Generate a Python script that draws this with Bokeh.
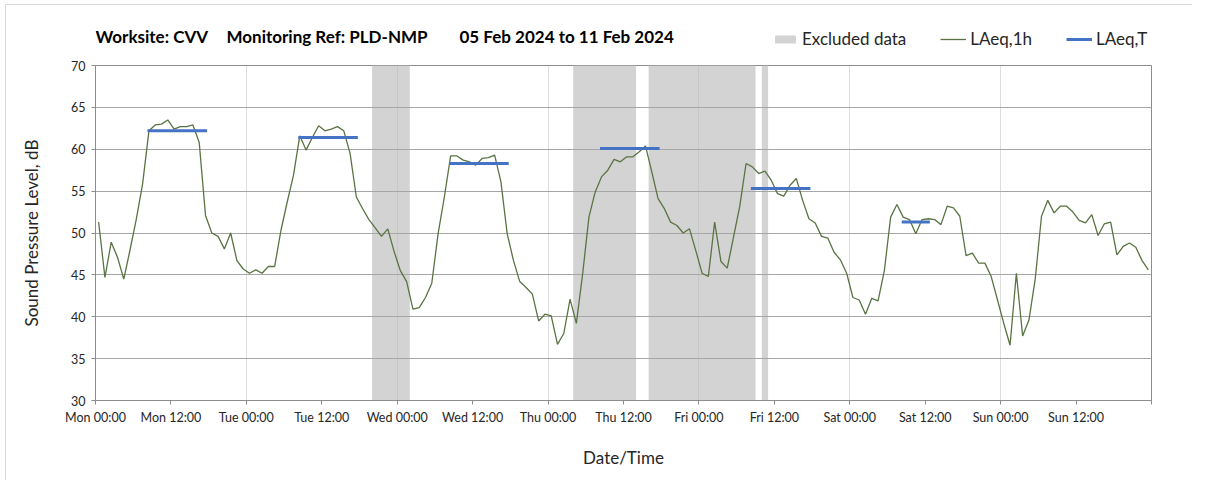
from bokeh.plotting import figure
from bokeh.layouts import column
from bokeh.models import Range1d, FixedTicker, Label, Legend, LegendItem, ColumnDataSource
from bokeh.embed import file_html
from bokeh.resources import INLINE

# ---------------- data ----------------
day_names = ["Mon", "Tue", "Wed", "Thu", "Fri", "Sat", "Sun"]

# hourly LAeq,1h values, Mon 00:00 ... Sun 23:00 (168 values)
laeq_1h = [
    51.3, 44.7, 48.9, 47.1, 44.5, 48.0, 51.7, 55.9, 62.2, 62.9, 63.0, 63.5,
    62.4, 62.7, 62.7, 62.9, 60.8, 52.1, 50.0, 49.6, 48.1, 50.0, 46.7, 45.7,
    45.2, 45.6, 45.2, 46.0, 46.0, 50.3, 53.7, 56.9, 61.6, 59.9, 61.4, 62.8,
    62.2, 62.4, 62.7, 62.2, 59.5, 54.3, 52.9, 51.6, 50.6, 49.6, 50.5, 47.8,
    45.5, 44.2, 40.9, 41.1, 42.3, 44.0, 49.9, 54.3, 59.2, 59.2, 58.7, 58.5,
    58.1, 58.9, 59.0, 59.3, 56.1, 49.9, 46.7, 44.2, 43.5, 42.7, 39.5, 40.3,
    40.1, 36.7, 38.0, 42.1, 39.2, 45.1, 51.9, 54.9, 56.7, 57.5, 58.8, 58.5,
    59.1, 59.1, 59.7, 60.4, 57.3, 54.1, 52.9, 51.3, 50.9, 50.0, 50.5, 47.9,
    45.2, 44.8, 51.3, 46.6, 45.8, 49.5, 53.2, 58.3, 57.9, 57.1, 57.4, 56.3,
    54.7, 54.4, 55.7, 56.5, 53.9, 51.7, 51.2, 49.6, 49.4, 47.7, 46.8, 45.2,
    42.3, 42.0, 40.3, 42.2, 41.9, 45.5, 51.9, 53.4, 51.9, 51.6, 49.9, 51.6,
    51.7, 51.6, 51.0, 53.2, 53.0, 52.0, 47.3, 47.6, 46.4, 46.4, 44.8, 42.0,
    39.2, 36.6, 45.2, 37.7, 39.6, 44.5, 52.0, 53.9, 52.4, 53.2, 53.2, 52.5,
    51.5, 51.2, 52.2, 49.7, 51.1, 51.3, 47.4, 48.4, 48.8, 48.3, 46.7, 45.6,
]

# excluded periods, hours from Mon 00:00
excluded_start = [44, 76, 88, 106]
excluded_end = [50, 86, 105, 107]

# LAeq,T periods: day index, first and last hourly interval, value
laeqT_day = [0, 1, 2, 3, 4, 5]
laeqT_first_hour = [8, 8, 8, 8, 8, 8]
laeqT_last_hour = [17, 17, 17, 17, 17, 12]
laeqT_value = [62.2, 61.4, 58.3, 60.1, 55.3, 51.3]

title_parts = ["Worksite: CVV", "Monitoring Ref: PLD-NMP", "05 Feb 2024 to 11 Feb 2024"]

FONT = "Lato"
TXT = "#262626"
EXC_COLOR = "#d3d3d3"
LINE_COLOR = "#5a7343"
T_COLOR = "#4472c4"

W = 1192
HEAD_H = 60
MAIN_H = 420
FRAME_L = 95
FRAME_R = 1151

# --------------- main figure ---------------
p = figure(width=W, height=MAIN_H, output_backend="svg", toolbar_location=None,
           x_range=Range1d(0, 168), y_range=Range1d(30, 70),
           min_border_left=FRAME_L, min_border_right=W - FRAME_R, min_border_top=5,
           min_border_bottom=MAIN_H - 5 - 335)
p.title.visible = False
p.background_fill_color = "white"
p.border_fill_color = "white"
p.outline_line_color = "#8c8c8c"
p.outline_line_width = 1

exc_src = ColumnDataSource(dict(left=excluded_start, right=excluded_end,
                                bottom=[30] * len(excluded_start),
                                top=[70] * len(excluded_start)))
p.quad(left="left", right="right", bottom="bottom", top="top", source=exc_src,
       fill_color=EXC_COLOR, line_color=None, level="image")

hours = [hh + 0.5 for hh in range(len(laeq_1h))]
p.line(hours, laeq_1h, line_color=LINE_COLOR, line_width=1.3)

x0 = [d * 24 + a + 0.5 for d, a in zip(laeqT_day, laeqT_first_hour)]
x1 = [d * 24 + b + 0.5 for d, b in zip(laeqT_day, laeqT_last_hour)]
p.segment(x0=x0, y0=laeqT_value, x1=x1, y1=laeqT_value,
          line_color=T_COLOR, line_width=3, line_cap="square")

xt = list(range(0, 169, 12))
p.xaxis.ticker = FixedTicker(ticks=xt)
overrides = {}
for t in xt:
    overrides[float(t)] = f"{day_names[t // 24]} {t % 24:02d}:00" if t < 168 else ""
p.xaxis.major_label_overrides = overrides
p.yaxis.ticker = FixedTicker(ticks=list(range(30, 71, 5)))

for ax in (p.xaxis[0], p.yaxis[0]):
    ax.axis_line_color = "#8c8c8c"
    ax.major_tick_line_color = "#8c8c8c"
    ax.minor_tick_line_color = None
    ax.major_tick_in = 0
    ax.major_tick_out = 4
    ax.major_label_text_font = FONT
    ax.major_label_text_font_size = "12.5px"
    ax.major_label_text_color = TXT
    ax.axis_label_text_font = FONT
    ax.axis_label_text_font_style = "normal"
    ax.axis_label_text_font_size = "17px"
    ax.axis_label_text_color = TXT

p.xaxis.axis_label = "Date/Time"
p.xaxis.major_label_standoff = 5
p.xaxis.axis_label_standoff = 19
p.yaxis.axis_label = "Sound Pressure Level, dB"
p.yaxis.major_label_standoff = 6
p.yaxis.axis_label_standoff = 26

p.ygrid.ticker = FixedTicker(ticks=list(range(35, 70, 5)))
p.ygrid.grid_line_color = "#a6a6a6"
p.xgrid.ticker = FixedTicker(ticks=list(range(24, 168, 24)))
p.xgrid.grid_line_color = "#bbbbbb"
p.xgrid.grid_line_alpha = 0.5

# --------------- header (title + legend), pixel coordinates ---------------
h = figure(width=W, height=HEAD_H, output_backend="svg", toolbar_location=None,
           x_range=Range1d(FRAME_L, FRAME_R), y_range=Range1d(HEAD_H, 0),
           x_axis_type=None, y_axis_type=None, min_border=0,
           min_border_left=FRAME_L, min_border_right=W - FRAME_R)
h.title.visible = False
h.outline_line_color = None
h.xgrid.visible = False
h.ygrid.visible = False

title_x = [95, 226, 459]
for txt, tx in zip(title_parts, title_x):
    h.add_layout(Label(x=tx, y=35.5, text=txt, text_font=FONT,
                       text_font_style="bold", text_font_size="17px",
                       text_color="black", text_baseline="middle", text_align="left"))

nan = float("nan")
rq = h.quad(left=[nan], right=[nan], bottom=[nan], top=[nan],
            fill_color=EXC_COLOR, line_color=None)
rl = h.line(x=[nan], y=[nan], line_color=LINE_COLOR, line_width=1.3)
rs = h.segment(x0=[nan], y0=[nan], x1=[nan], y1=[nan], line_color=T_COLOR, line_width=3)

legend = Legend(items=[LegendItem(label="Excluded data", renderers=[rq]),
                       LegendItem(label="LAeq,1h", renderers=[rl]),
                       LegendItem(label="LAeq,T", renderers=[rs])],
                orientation="horizontal", location=(772 - FRAME_L, 11),
                label_text_font=FONT, label_text_font_size="17px",
                label_text_color=TXT, glyph_width=26, glyph_height=10,
                label_standoff=4, spacing=34, padding=0, margin=0,
                border_line_alpha=0, background_fill_alpha=0)
h.add_layout(legend)

frame_css = """
:host { position: relative; }
:host::after {
  content: ""; position: absolute; left: 5px; top: 4px; right: 0; bottom: 0;
  border-left: 1px solid #d9d9d9; border-top: 1px solid #d9d9d9;
  pointer-events: none; z-index: 100;
}
"""

layout = column(h, p, spacing=0, stylesheets=[frame_css])
open("out.html", "w").write(file_html(layout, INLINE))
